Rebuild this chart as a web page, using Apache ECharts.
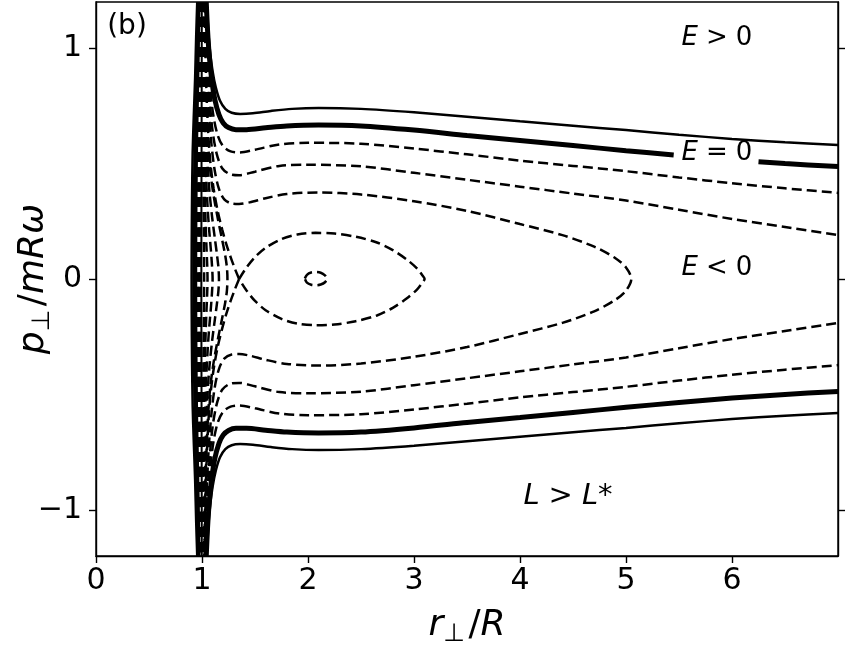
<!DOCTYPE html>
<html>
<head>
<meta charset="utf-8">
<script src="https://cdn.jsdelivr.net/npm/echarts@6/dist/echarts.min.js"></script>
<style>
  html, body { margin: 0; padding: 0; background: #fff; }
  #main { width: 848px; height: 650px; }
</style>
</head>
<body>
<div id="main"></div>
<script>
// tick positions
var xTicks = [0, 1, 2, 3, 4, 5, 6];
var yTicks = [-1, 0, 1];

// contour lines, [r/R, p/mRw]
// E > 0 (thin solid)
var thinUpper = [[1.045,1.2],[1.06,1.07],[1.075,0.99],[1.1,0.9],[1.13,0.83],[1.17,0.772],[1.22,0.737],[1.28,0.72],[1.36,0.715],[1.48,0.718],[1.65,0.728],[1.85,0.737],[2.1,0.741],[2.5,0.737],[3.0,0.722],[3.5,0.703],[4.0,0.683],[4.5,0.664],[5.0,0.645],[5.5,0.625],[6.0,0.607],[6.5,0.592],[7.0,0.58]];
var thinLower = [[1.045,-1.2],[1.06,-1.07],[1.075,-0.99],[1.1,-0.9],[1.13,-0.83],[1.17,-0.772],[1.22,-0.737],[1.28,-0.72],[1.36,-0.715],[1.48,-0.718],[1.65,-0.728],[1.85,-0.737],[2.1,-0.741],[2.5,-0.737],[3.0,-0.722],[3.5,-0.703],[4.0,-0.683],[4.5,-0.664],[5.0,-0.645],[5.5,-0.625],[6.0,-0.607],[6.5,-0.592],[7.0,-0.58]];
// E = 0 (thick solid), upper one is broken where the label sits
var zeroUpperA = [[1.04,1.2],[1.052,1.08],[1.068,0.97],[1.09,0.87],[1.12,0.78],[1.16,0.712],[1.2,0.676],[1.25,0.656],[1.32,0.647],[1.42,0.647],[1.6,0.655],[1.8,0.663],[2.1,0.667],[2.5,0.663],[3.0,0.645],[3.5,0.622],[4.0,0.6],[4.5,0.578],[5.0,0.556],[5.45,0.537]];
var zeroUpperB = [[6.25,0.508],[6.5,0.5],[7.0,0.487]];
var zeroLower = [[1.04,-1.2],[1.052,-1.08],[1.068,-0.97],[1.09,-0.87],[1.12,-0.78],[1.16,-0.712],[1.2,-0.676],[1.25,-0.656],[1.32,-0.647],[1.42,-0.647],[1.6,-0.655],[1.8,-0.663],[2.1,-0.667],[2.5,-0.663],[3.0,-0.645],[3.5,-0.622],[4.0,-0.6],[4.5,-0.578],[5.0,-0.556],[5.5,-0.535],[6.0,-0.516],[6.5,-0.5],[7.0,-0.487]];
// E < 0 (dashed)
var neg1Upper = [[1.035,1.2],[1.045,1.07],[1.06,0.93],[1.08,0.81],[1.11,0.7],[1.15,0.62],[1.2,0.575],[1.27,0.553],[1.35,0.548],[1.5,0.56],[1.73,0.583],[2.0,0.59],[2.5,0.586],[3.0,0.565],[3.5,0.54],[4.0,0.513],[4.5,0.49],[5.0,0.467],[5.5,0.44],[6.0,0.415],[6.5,0.393],[7.0,0.373]];
var neg1Lower = [[1.035,-1.2],[1.045,-1.07],[1.06,-0.93],[1.08,-0.81],[1.11,-0.7],[1.15,-0.62],[1.2,-0.575],[1.27,-0.553],[1.35,-0.548],[1.5,-0.56],[1.73,-0.583],[2.0,-0.59],[2.5,-0.586],[3.0,-0.565],[3.5,-0.54],[4.0,-0.513],[4.5,-0.49],[5.0,-0.467],[5.5,-0.44],[6.0,-0.415],[6.5,-0.393],[7.0,-0.373]];
var neg2Upper = [[1.03,1.2],[1.04,1.05],[1.055,0.9],[1.075,0.76],[1.1,0.64],[1.14,0.54],[1.19,0.48],[1.26,0.455],[1.35,0.45],[1.5,0.465],[1.73,0.49],[2.0,0.495],[2.5,0.488],[3.0,0.46],[3.5,0.43],[4.0,0.4],[4.5,0.37],[5.0,0.34],[5.5,0.3],[6.0,0.26],[6.5,0.225],[7.0,0.19]];
var neg2Lower = [[1.03,-1.2],[1.04,-1.05],[1.055,-0.9],[1.075,-0.76],[1.1,-0.64],[1.14,-0.54],[1.19,-0.48],[1.26,-0.455],[1.35,-0.45],[1.5,-0.465],[1.73,-0.49],[2.0,-0.495],[2.5,-0.488],[3.0,-0.46],[3.5,-0.43],[4.0,-0.4],[4.5,-0.37],[5.0,-0.34],[5.5,-0.3],[6.0,-0.26],[6.5,-0.225],[7.0,-0.19]];
// closes at r ~ 5.05
var neg3 = [[1.027,1.2],[1.035,1.05],[1.048,0.88],[1.065,0.72],[1.09,0.58],[1.12,0.47],[1.16,0.39],[1.21,0.345],[1.28,0.327],[1.35,0.325],[1.45,0.332],[1.6,0.35],[1.8,0.368],[2.1,0.375],[2.5,0.366],[3.0,0.337],[3.5,0.295],[4.0,0.238],[4.4,0.19],[4.7,0.14],[4.9,0.09],[5.0,0.05],[5.05,0],
            [5.0,-0.05],[4.9,-0.09],[4.7,-0.14],[4.4,-0.19],[4.0,-0.238],[3.5,-0.295],[3.0,-0.337],[2.5,-0.366],[2.1,-0.375],[1.8,-0.368],[1.6,-0.35],[1.45,-0.332],[1.35,-0.325],[1.28,-0.327],[1.21,-0.345],[1.16,-0.39],[1.12,-0.47],[1.09,-0.58],[1.065,-0.72],[1.048,-0.88],[1.035,-1.05],[1.027,-1.2]];
// separatrix: loop from the saddle and its two arms to the wall
var sepLoop = [[1.35,0],[1.42,0.05],[1.5,0.095],[1.6,0.135],[1.75,0.173],[1.9,0.193],[2.07,0.2],[2.25,0.197],[2.45,0.183],[2.65,0.158],[2.8,0.125],[2.93,0.085],[3.03,0.045],[3.08,0.015],[3.1,0],
               [3.08,-0.015],[3.03,-0.045],[2.93,-0.085],[2.8,-0.125],[2.65,-0.158],[2.45,-0.183],[2.25,-0.197],[2.07,-0.2],[1.9,-0.193],[1.75,-0.173],[1.6,-0.135],[1.5,-0.095],[1.42,-0.05],[1.35,0]];
var sepArmUpper = [[1.35,0],[1.31,0.045],[1.27,0.095],[1.23,0.15],[1.19,0.215],[1.15,0.29],[1.11,0.39],[1.08,0.5],[1.06,0.62],[1.045,0.77],[1.035,0.93],[1.025,1.2]];
var sepArmLower = [[1.35,0],[1.31,-0.045],[1.27,-0.095],[1.23,-0.15],[1.19,-0.215],[1.15,-0.29],[1.11,-0.39],[1.08,-0.5],[1.06,-0.62],[1.045,-0.77],[1.035,-0.93],[1.025,-1.2]];
// small loop at the minimum
var innerLoop = [[1.97,0.002],[1.99,0.018],[2.03,0.028],[2.075,0.03],[2.12,0.027],[2.16,0.016],[2.18,0.002],[2.16,-0.014],[2.12,-0.024],[2.075,-0.027],[2.03,-0.025],[1.99,-0.016],[1.97,0.002]];
// levels below the saddle that bend back near the wall
var wall1 = [[1.022,1.2],[1.033,0.9],[1.045,0.72],[1.06,0.57],[1.08,0.46],[1.11,0.36],[1.15,0.26],[1.19,0.17],[1.22,0.1],[1.235,0.05],[1.24,0],[1.235,-0.05],[1.22,-0.1],[1.19,-0.17],[1.15,-0.26],[1.11,-0.36],[1.08,-0.46],[1.06,-0.57],[1.045,-0.72],[1.033,-0.9],[1.022,-1.2]];
var wall2 = [[1.019,1.2],[1.03,0.85],[1.04,0.65],[1.052,0.5],[1.07,0.38],[1.095,0.27],[1.12,0.18],[1.14,0.11],[1.155,0.05],[1.16,0],[1.155,-0.05],[1.14,-0.11],[1.12,-0.18],[1.095,-0.27],[1.07,-0.38],[1.052,-0.5],[1.04,-0.65],[1.03,-0.85],[1.019,-1.2]];
var wall3 = [[1.015,1.2],[1.022,0.85],[1.03,0.6],[1.04,0.43],[1.053,0.31],[1.068,0.21],[1.083,0.13],[1.094,0.06],[1.1,0],[1.094,-0.06],[1.083,-0.13],[1.068,-0.21],[1.053,-0.31],[1.04,-0.43],[1.03,-0.6],[1.022,-0.85],[1.015,-1.2]];
var wall4 = [[1.01,1.2],[1.014,0.85],[1.019,0.58],[1.026,0.38],[1.034,0.24],[1.042,0.14],[1.049,0.06],[1.052,0],[1.049,-0.06],[1.042,-0.14],[1.034,-0.24],[1.026,-0.38],[1.019,-0.58],[1.014,-0.85],[1.01,-1.2]];
var wall5 = [[1.005,1.2],[1.007,0.85],[1.01,0.58],[1.013,0.38],[1.017,0.2],[1.02,0],[1.017,-0.2],[1.013,-0.38],[1.01,-0.58],[1.007,-0.85],[1.005,-1.2]];
// r < 1 side of the wall
var core1 = [[0.955,1.2],[0.945,1.05],[0.935,0.87],[0.922,0.7],[0.912,0.55],[0.906,0.35],[0.903,0.15],[0.902,0],[0.903,-0.15],[0.906,-0.35],[0.912,-0.55],[0.922,-0.7],[0.935,-0.87],[0.945,-1.05],[0.955,-1.2]];
var core2 = [[0.963,1.2],[0.955,1.0],[0.945,0.8],[0.935,0.6],[0.928,0.4],[0.924,0.2],[0.923,0],[0.924,-0.2],[0.928,-0.4],[0.935,-0.6],[0.945,-0.8],[0.955,-1.0],[0.963,-1.2]];
var core3 = [[0.972,1.2],[0.966,1.0],[0.958,0.8],[0.95,0.6],[0.945,0.4],[0.942,0.2],[0.941,0],[0.942,-0.2],[0.945,-0.4],[0.95,-0.6],[0.958,-0.8],[0.966,-1.0],[0.972,-1.2]];
var core4 = [[0.98,1.2],[0.975,1.0],[0.97,0.8],[0.965,0.6],[0.961,0.4],[0.958,0.2],[0.957,0],[0.958,-0.2],[0.961,-0.4],[0.965,-0.6],[0.97,-0.8],[0.975,-1.0],[0.98,-1.2]];
var core5 = [[0.987,1.2],[0.984,1.0],[0.98,0.8],[0.977,0.6],[0.974,0.4],[0.972,0.2],[0.971,0],[0.972,-0.2],[0.974,-0.4],[0.977,-0.6],[0.98,-0.8],[0.984,-1.0],[0.987,-1.2]];
var core6 = [[0.993,1.2],[0.991,1.0],[0.989,0.8],[0.987,0.6],[0.985,0.4],[0.984,0.2],[0.983,0],[0.984,-0.2],[0.985,-0.4],[0.987,-0.6],[0.989,-0.8],[0.991,-1.0],[0.993,-1.2]];
var core7 = [[0.998,1.2],[0.997,0.8],[0.995,0.4],[0.994,0],[0.995,-0.4],[0.997,-0.8],[0.998,-1.2]];

var FONT = 'DejaVu Sans';
var DASH = [10, 5];

function curve(data, width, dashed) {
    return {
        type: 'line',
        data: data,
        showSymbol: false,
        symbol: 'none',
        smooth: 0.3,
        silent: true,
        clip: true,
        lineStyle: { color: '#000', width: width, type: dashed ? DASH : 'solid' },
        z: 2
    };
}

var series = [
    curve(core1, 2.5, false), curve(core2, 3, false), curve(core3, 3, false),
    curve(core4, 2.5, true), curve(core5, 2.5, true), curve(core6, 2.5, true), curve(core7, 2, false),
    curve(wall1, 2.5, true), curve(wall2, 2.5, true), curve(wall3, 2.5, true), curve(wall4, 2.5, true), curve(wall5, 2.5, true),
    curve(sepLoop, 2.5, true), curve(sepArmUpper, 2.5, true), curve(sepArmLower, 2.5, true),
    curve(innerLoop, 2.5, true),
    curve(neg3, 2.5, true),
    curve(neg2Upper, 2.5, true), curve(neg2Lower, 2.5, true),
    curve(neg1Upper, 2.5, true), curve(neg1Lower, 2.5, true),
    curve(zeroUpperA, 5, false), curve(zeroUpperB, 5, false), curve(zeroLower, 5, false),
    curve(thinUpper, 2.5, false), curve(thinLower, 2.5, false)
];

var chart = echarts.init(document.getElementById('main'), null, { renderer: 'canvas' });

var mathRich = {
    i: { fontFamily: FONT, fontStyle: 'italic', fontSize: 26, fill: '#000' },
    n: { fontFamily: FONT, fontSize: 26, fill: '#000' }
};
var labelRich = {
    i: { fontFamily: FONT, fontStyle: 'italic', fontSize: 36, fill: '#000' },
    n: { fontFamily: FONT, fontSize: 36, fill: '#000' },
    s: { fontFamily: FONT, fontSize: 25, fill: '#000', padding: [16, 0, 0, 0] }
};

var option = {
    animation: false,
    backgroundColor: '#fff',
    grid: { left: 96, right: 10, top: 2, bottom: 94, show: true, borderColor: '#000', borderWidth: 1.4, backgroundColor: 'transparent' },
    xAxis: [{
        type: 'value', min: 0, max: 7, position: 'bottom',
        axisLine: { show: true, onZero: false, lineStyle: { color: '#000', width: 1.4 } },
        axisTick: { show: true, inside: false, length: 7, customValues: xTicks, lineStyle: { color: '#000', width: 1.4 } },
        axisLabel: { show: true, customValues: xTicks, color: '#000', fontSize: 30, fontFamily: FONT, margin: 10 },
        splitLine: { show: false }
    }],
    yAxis: [{
        type: 'value', min: -1.2, max: 1.2, position: 'left',
        axisLine: { show: true, onZero: false, lineStyle: { color: '#000', width: 1.4 } },
        axisTick: { show: true, inside: false, length: 7, customValues: yTicks, lineStyle: { color: '#000', width: 1.4 } },
        axisLabel: {
            show: true, customValues: yTicks, color: '#000', fontSize: 30, fontFamily: FONT, margin: 14,
            formatter: function (v) { return v < 0 ? '\u2212' + Math.abs(v) : String(v); }
        },
        splitLine: { show: false }
    }, {
        type: 'value', min: -1.2, max: 1.2, position: 'right',
        axisLine: { show: true, onZero: false, lineStyle: { color: '#000', width: 1.4 } },
        axisTick: { show: true, inside: false, length: 7, customValues: yTicks, lineStyle: { color: '#000', width: 1.4 } },
        axisLabel: { show: false },
        splitLine: { show: false }
    }],
    series: series,
    graphic: [
        { type: 'text', x: 127, y: 27, z: 10, style: { text: '(b)', font: '28px "DejaVu Sans"', fill: '#000', align: 'center', verticalAlign: 'middle' } },
        { type: 'text', x: 717, y: 38, z: 10, style: { text: '{i|E}{r|>}{n|0}', rich: mathRich, align: 'center', verticalAlign: 'middle' } },
        { type: 'text', x: 717, y: 153, z: 10, style: { text: '{i|E}{r|=}{n|0}', rich: mathRich, align: 'center', verticalAlign: 'middle' } },
        { type: 'text', x: 717, y: 268, z: 10, style: { text: '{i|E}{r|<}{n|0}', rich: mathRich, align: 'center', verticalAlign: 'middle' } },
        { type: 'text', x: 568, y: 496, z: 10, style: { text: '{i|L}{r|>}{i|L}{n|*}', rich: {
            i: { fontFamily: FONT, fontStyle: 'italic', fontSize: 29, fill: '#000' },
            n: { fontFamily: FONT, fontSize: 29, fill: '#000' },
            r: { fontFamily: FONT, fontSize: 29, fill: '#000', padding: [0, 9, 0, 9] } }, align: 'center', verticalAlign: 'middle' } },
        { type: 'text', x: 467, y: 626, z: 10, style: { text: '{i|r}{s|\u22a5} {n|/}{i|R}', rich: labelRich, align: 'center', verticalAlign: 'middle' } },
        { type: 'text', x: 34, y: 279, z: 10, rotation: Math.PI / 2, style: { text: '{i|p}{s|\u22a5} {n|/}{i|mR\u03c9}', rich: labelRich, align: 'center', verticalAlign: 'middle' } }
    ]
};
mathRich.r = { fontFamily: FONT, fontSize: 26, fill: '#000', padding: [0, 8, 0, 8] };

chart.setOption(option);
</script>
</body>
</html>
